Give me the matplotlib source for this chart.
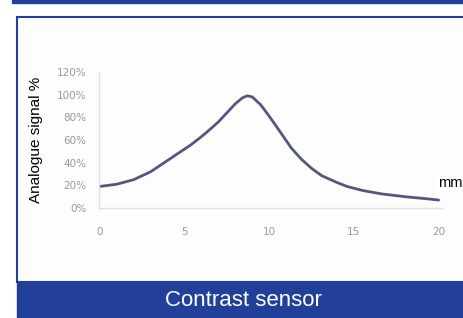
import matplotlib
matplotlib.use("Agg")
import matplotlib.pyplot as plt
from matplotlib.patches import Rectangle

# data
dist_mm = [0, 1, 2, 3, 3.5, 4, 5, 5.4, 6, 6.4, 7, 7.5, 8, 8.4, 8.7, 9, 9.5, 10,
           10.7, 11.3, 11.9, 12.5, 13.1, 14, 14.6, 15.5, 16.6, 18, 19.4, 20]
signal = [0.19, 0.21, 0.25, 0.32, 0.37, 0.42, 0.52, 0.56, 0.63, 0.68, 0.76, 0.84,
          0.92, 0.97, 0.99, 0.98, 0.91, 0.81, 0.66, 0.53, 0.43, 0.35, 0.285, 0.225,
          0.19, 0.155, 0.125, 0.10, 0.08, 0.07]
x_ticks = [0, 5, 10, 15, 20]
y_ticks = [0, 0.2, 0.4, 0.6, 0.8, 1.0, 1.2]
y_labels = ["0%", "20%", "40%", "60%", "80%", "100%", "120%"]

W, H = 464, 318
blue = "#22409a"

fig = plt.figure(figsize=(W / 100, H / 100), dpi=100)
fig.patch.set_facecolor("white")

def px(x0, y0, w, h):
    # pixel box (top-left origin) -> figure coords
    return [x0 / W, 1 - (y0 + h) / H, w / W, h / H]

# frame and bands
fig.patches.append(Rectangle((12 / W, 1 - 3 / H), 452 / W, 3 / H,
                             transform=fig.transFigure, color=blue, zorder=0))
fig.patches.append(Rectangle((16.5 / W, 1 - 282 / H), 450 / W, 265.5 / H,
                             transform=fig.transFigure, facecolor="#fdfdfd",
                             edgecolor=blue, linewidth=1.5, zorder=0))
fig.patches.append(Rectangle((17 / W, 0), 447 / W, 36 / H,
                             transform=fig.transFigure, color=blue, zorder=1))
fig.text(243 / W, 1 - 300 / H, "Contrast sensor", color="white",
         fontsize=16, ha="center", va="center", family="Liberation Sans")

ax = fig.add_axes(px(99, 72, 343, 136))
ax.set_zorder(3)
ax.set_facecolor("none")
ax.plot(dist_mm, signal, color="#53587e", linewidth=2,
        solid_capstyle="round", solid_joinstyle="round")
ax.set_xlim(-0.05, 20.2)
ax.set_ylim(0, 1.2)
ax.set_xticks(x_ticks)
ax.set_yticks(y_ticks)
ax.set_yticklabels(y_labels)
for s in ["top", "right"]:
    ax.spines[s].set_visible(False)
for s in ["left", "bottom"]:
    ax.spines[s].set_color("#e0e0e0")
    ax.spines[s].set_linewidth(1)
ax.tick_params(length=0, labelsize=7.5, labelcolor="#999999")
ax.tick_params(axis="x", pad=14)
ax.tick_params(axis="y", pad=9)

fig.text(36 / W, 1 - 140 / H, "Analogue signal %", rotation=90, fontsize=11,
         ha="center", va="center", family="Liberation Sans", zorder=4)
fig.text(438 / W, 1 - 183 / H, "mm", fontsize=10.5, ha="left", va="center",
         family="Liberation Sans", zorder=5,
         bbox=dict(facecolor="white", edgecolor="none", pad=2))

fig.savefig("out.png", dpi=100)
